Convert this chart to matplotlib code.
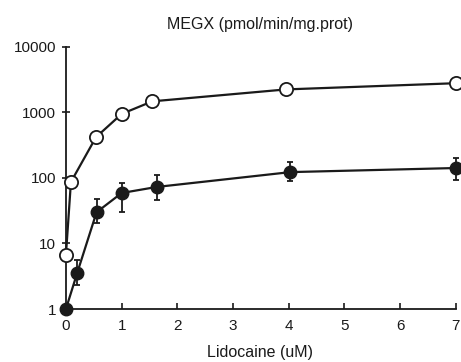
import matplotlib
matplotlib.use("Agg")
import matplotlib.pyplot as plt
from matplotlib.ticker import FixedLocator, FixedFormatter, NullLocator
import numpy as np

plt.rcParams['font.family'] = ['Liberation Sans', 'DejaVu Sans']

# open circles series
x_open = [0.0, 0.09, 0.54, 1.0, 1.55, 3.95, 7.0]
y_open = [6.7, 87, 420, 950, 1480, 2250, 2800]

# filled circles series (with asymmetric error bars)
x_fill = [0.0, 0.2, 0.55, 1.0, 1.63, 4.03, 7.0]
y_fill = [1.0, 3.5, 30, 59, 73, 123, 142]
y_fill_lo = [1.0, 2.3, 20.6, 30, 46, 90, 93]
y_fill_hi = [1.0, 5.6, 48, 84, 111, 175, 203]

xticks = [0, 1, 2, 3, 4, 5, 6, 7]
yticks = [1, 10, 100, 1000, 10000]
ytick_labels = ['1', '10', '100', '1000', '10000']

title = 'MEGX (pmol/min/mg.prot)'
xlabel = 'Lidocaine (uM)'

fig = plt.figure(figsize=(4.61, 3.62), dpi=100)
ax = fig.add_axes([0.143, 0.1464, 0.846, 0.7238])

yerr = [np.array(y_fill) - np.array(y_fill_lo), np.array(y_fill_hi) - np.array(y_fill)]
ax.errorbar(x_fill, y_fill, yerr=yerr, fmt='-o', color='#1a1a1a', mfc='#1a1a1a', mec='#1a1a1a',
            ms=9, lw=1.6, elinewidth=1.3, capsize=2.5, capthick=1.3, clip_on=False, zorder=3)
ax.plot(x_open, y_open, '-o', color='#1a1a1a', mfc='white', mec='#1a1a1a', mew=1.3,
        ms=9.5, lw=1.6, clip_on=False, zorder=4)

ax.set_yscale('log')
ax.set_xlim(0, 7)
ax.set_ylim(1, 10000)
ax.xaxis.set_major_locator(FixedLocator(xticks))
ax.yaxis.set_major_locator(FixedLocator(yticks))
ax.yaxis.set_major_formatter(FixedFormatter(ytick_labels))
ax.yaxis.set_minor_locator(NullLocator())

for s in ['top', 'right']:
    ax.spines[s].set_visible(False)
for s in ['left', 'bottom']:
    ax.spines[s].set_linewidth(1.3)
    ax.spines[s].set_color('#1a1a1a')

ax.tick_params(axis='x', direction='in', length=4, width=1.2, labelsize=11, pad=7, colors='#1a1a1a')
ax.tick_params(axis='y', direction='inout', length=6, width=1.2, labelsize=11, pad=4, colors='#1a1a1a')

fig.text(0.565, 0.931, title, ha='center', va='center', fontsize=11.5, color='#1a1a1a')
fig.text(0.565, 0.025, xlabel, ha='center', va='center', fontsize=11.5, color='#1a1a1a')

fig.savefig('out.png', dpi=100)
